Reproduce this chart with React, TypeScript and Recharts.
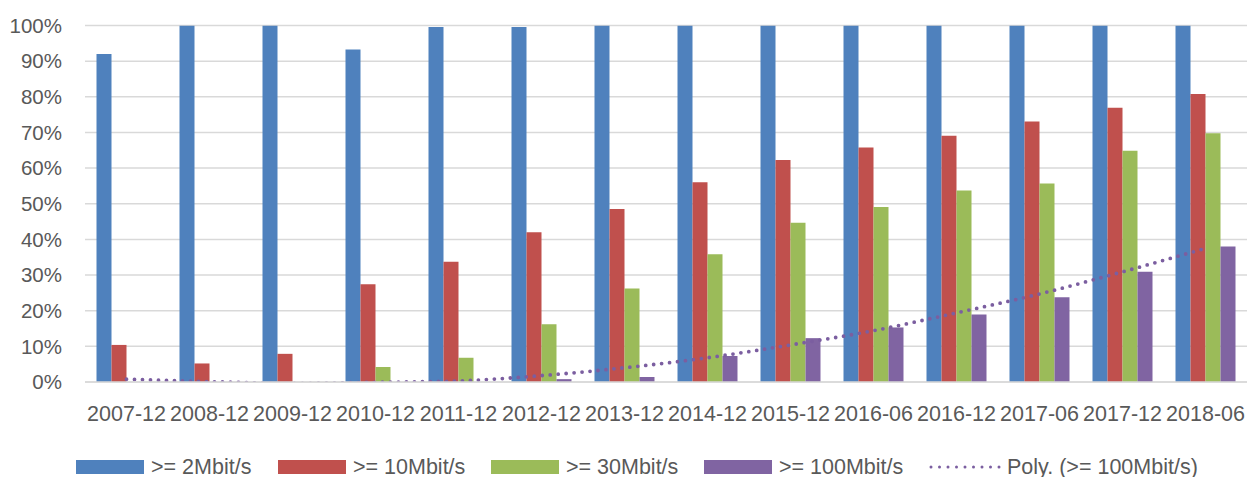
import React from 'react';
import { ComposedChart, Bar, Line, XAxis, YAxis, CartesianGrid, Legend } from 'recharts';

const categories = ['2007-12', '2008-12', '2009-12', '2010-12', '2011-12', '2012-12', '2013-12', '2014-12', '2015-12', '2016-06', '2016-12', '2017-06', '2017-12', '2018-06'];
const mbit2 = [92, 100, 100, 93.3, 99.6, 99.6, 100, 100, 100, 100, 100, 100, 100, 100];
const mbit10 = [10.4, 5.2, 7.9, 27.4, 33.7, 42.0, 48.5, 56.0, 62.3, 65.8, 69.1, 73.1, 76.9, 80.8];
const mbit30 = [0, 0, 0, 4.2, 6.8, 16.2, 26.2, 35.8, 44.7, 49.1, 53.7, 55.7, 64.9, 69.8];
const mbit100 = [0, 0, 0, 0, 0, 0.8, 1.4, 7.3, 12.3, 15.3, 18.9, 23.8, 30.9, 38.0];
const polyTrend = [0.8, 0.1, -0.4, -0.1, 0.3, 1.8, 4.0, 6.8, 10.4, 14.4, 19.4, 24.7, 30.9, 37.5];
const yTicks = [0, 10, 20, 30, 40, 50, 60, 70, 80, 90, 100];
const seriesNames = ['>= 2Mbit/s', '>= 10Mbit/s', '>= 30Mbit/s', '>= 100Mbit/s', 'Poly. (>= 100Mbit/s)'];

const data = categories.map((c, i) => ({
  cat: c,
  a: mbit2[i],
  b: mbit10[i],
  c: mbit30[i],
  d: mbit100[i],
  t: polyTrend[i],
}));

const COLORS = ['#4f81bd', '#c0504d', '#9bbb59', '#8064a2'];
const TREND = '#7b5ea0';
const TEXT = '#595959';
const FONT = '"Liberation Sans", Arial, sans-serif';
const legendTextWidths = [106, 117, 117, 129, 186];

const renderLegend = () => (
  <div style={{ display: 'flex', alignItems: 'center', height: 30, paddingLeft: 76, fontFamily: FONT, fontSize: 21.5, color: TEXT, boxSizing: 'border-box' }}>
    {seriesNames.map((name, i) => (
      <div key={name} style={{ display: 'flex', alignItems: 'center', marginRight: 21 }}>
        {i < 4 ? (
          <div style={{ width: 68, height: 14, background: COLORS[i] }} />
        ) : (
          <svg width={72} height={14} style={{ display: 'block' }}>
            <line x1={2} y1={7} x2={70.5} y2={7} stroke={TREND} strokeWidth={3} strokeDasharray="0 8.5" strokeLinecap="round" />
          </svg>
        )}
        <span style={{ marginLeft: i < 4 ? 7 : 6, width: legendTextWidths[i], whiteSpace: 'nowrap', lineHeight: '30px' }}>{name}</span>
      </div>
    ))}
  </div>
);

export default function App() {
  return (
    <div style={{ position: 'absolute', left: 0, top: 0, width: 1247, height: 477, background: '#fff' }}>
      <ComposedChart
        width={1247}
        height={477}
        data={data}
        margin={{ top: 25.5, right: 0, bottom: 0, left: 0 }}
        barCategoryGap={11.5}
        barGap={0}
      >
        <CartesianGrid horizontal vertical={false} stroke="#d9d9d9" strokeWidth={1.5} />
        <XAxis
          dataKey="cat"
          height={65}
          tickLine={false}
          tickSize={0}
          tickMargin={24}
          axisLine={{ stroke: '#d9d9d9', strokeWidth: 1.5 }}
          tick={{ fill: TEXT, fontSize: 21.5, fontFamily: FONT }}
          interval={0}
        />
        <YAxis
          width={85}
          domain={[0, 100]}
          ticks={yTicks}
          allowDataOverflow
          axisLine={false}
          tickLine={false}
          tickSize={0}
          tickMargin={23}
          tickFormatter={(v) => `${v}%`}
          tick={{ fill: TEXT, fontSize: 20.5, fontFamily: FONT }}
        />
        <Legend
          verticalAlign="bottom"
          content={renderLegend}
          wrapperStyle={{ left: 0, top: 452, bottom: 'auto', width: 1247, height: 30 }}
        />
        <Bar dataKey="a" name={seriesNames[0]} fill={COLORS[0]} isAnimationActive={false} />
        <Bar dataKey="b" name={seriesNames[1]} fill={COLORS[1]} isAnimationActive={false} />
        <Bar dataKey="c" name={seriesNames[2]} fill={COLORS[2]} isAnimationActive={false} />
        <Bar dataKey="d" name={seriesNames[3]} fill={COLORS[3]} isAnimationActive={false} />
        <Line
          dataKey="t"
          name={seriesNames[4]}
          type="monotone"
          stroke={TREND}
          strokeWidth={3.8}
          strokeDasharray="0 8"
          strokeLinecap="round"
          dot={false}
          activeDot={false}
          isAnimationActive={false}
        />
      </ComposedChart>
    </div>
  );
}
